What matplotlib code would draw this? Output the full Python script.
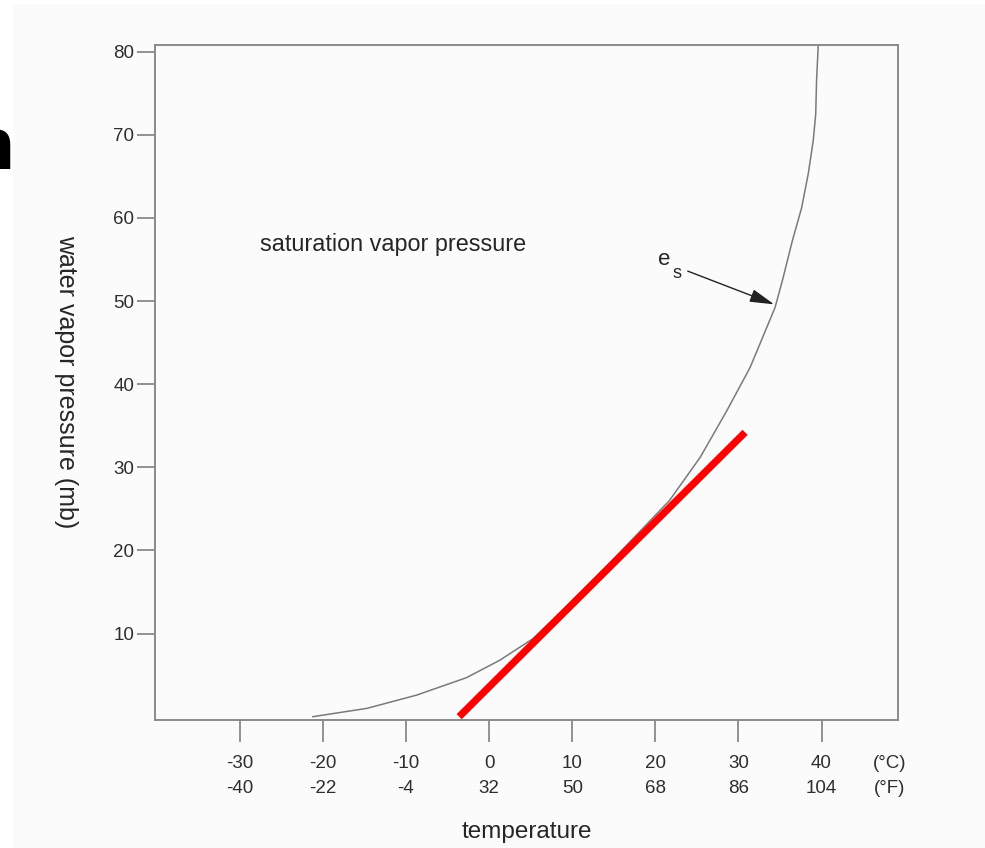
import numpy as np
import matplotlib
matplotlib.use('Agg')
import matplotlib.pyplot as plt
from matplotlib.patches import Rectangle

plt.rcParams['font.family'] = ['Liberation Sans', 'DejaVu Sans']

# 饱和水汽压曲线 (从图上读的)
temp_c = [-21.2, -14.7, -8.7, -2.7, 1.3, 5.3, 10.0, 15.0, 21.7, 25.4, 28.6, 31.4, 32.9,
          34.4, 35.3, 36.5, 37.6, 38.4, 39.0, 39.3, 39.4, 39.6]
e_sat = [0.0, 1.0, 2.6, 4.7, 6.8, 9.4, 13.9, 19.0, 26.0, 31.2, 36.8, 42.0, 45.6,
         49.2, 52.5, 57.3, 61.2, 65.3, 69.3, 72.5, 76.5, 80.7]

# 红色直线
red_t = [-3.6, 30.8]
red_e = [0.0, 34.2]

xticks_c = [-30, -20, -10, 0, 10, 20, 30, 40]
xticks_f = ['-40', '-22', '-4', '32', '50', '68', '86', '104']
yticks = [10, 20, 30, 40, 50, 60, 70, 80]

W, H = 985, 848
fig = plt.figure(figsize=(W / 100, H / 100), dpi=100, facecolor='white')

# 左边被截掉的标题字母
fig.text(15 / W, 1 - 169 / H, 'n', fontsize=54, fontweight='bold', color='black',
         ha='right', va='baseline', zorder=-2)
fig.patches.append(Rectangle((13 / W, 0), 1, 1 - 4 / H, transform=fig.transFigure,
                             facecolor='#fbfbfb', edgecolor='none', zorder=-1))

ax = fig.add_axes([155 / W, 1 - 720 / H, 743 / W, 675 / H])
ax.set_facecolor('#fbfbfb')
ax.set_xlim(-40.2, 49.2)
ax.set_ylim(-0.4, 80.8)

ax.plot(temp_c, e_sat, color='#7a7a7a', lw=1.1)
ax.plot(red_t, red_e, color='#ff0000', lw=5.2, solid_capstyle='butt', clip_on=False, zorder=3)

gray = '#8a8a8a'
for s in ax.spines.values():
    s.set_color(gray)
    s.set_linewidth(1.4)

ax.set_xticks(xticks_c)
ax.set_xticklabels([f'{c}\n{f}' for c, f in zip(xticks_c, xticks_f)], linespacing=1.6)
ax.set_xticks([48.2], minor=True)
ax.set_xticklabels(['(°C)\n(°F)'], minor=True, linespacing=1.6)
ax.set_yticks(yticks)
ax.tick_params(axis='x', which='major', length=16, width=1.3, color=gray, pad=9.5,
               labelsize=13.5, labelcolor='#2e2e2e')
ax.tick_params(axis='x', which='minor', length=0, pad=25.5, labelsize=13.5, labelcolor='#2e2e2e')
ax.tick_params(axis='y', length=13, width=1.3, color=gray, pad=2,
               labelsize=13.5, labelcolor='#2e2e2e')

ax.text(-27.6, 56.8, 'saturation vapor pressure', fontsize=16.8, color='#262626',
        ha='left', va='center')
ax.text(21.1, 55.0, 'e', fontsize=16, color='#262626', ha='center', va='center')
ax.text(22.6, 53.3, 's', fontsize=13, color='#262626', ha='center', va='center')
ax.annotate('', xy=(34.3, 49.6), xytext=(23.9, 53.6),
            arrowprops=dict(arrowstyle='-|>,head_length=1.5,head_width=0.4',
                            color='#222222', lw=1.0, shrinkA=0, shrinkB=0))

fig.text(66 / W, 1 - 382 / H, 'water vapor pressure (mb)', rotation=270, fontsize=18,
         color='#262626', ha='center', va='center')
fig.text(527 / W, 1 - 832 / H, 'temperature', fontsize=17.5, color='#262626',
         ha='center', va='center')

fig.savefig('out.png', dpi=100, facecolor=fig.get_facecolor())
